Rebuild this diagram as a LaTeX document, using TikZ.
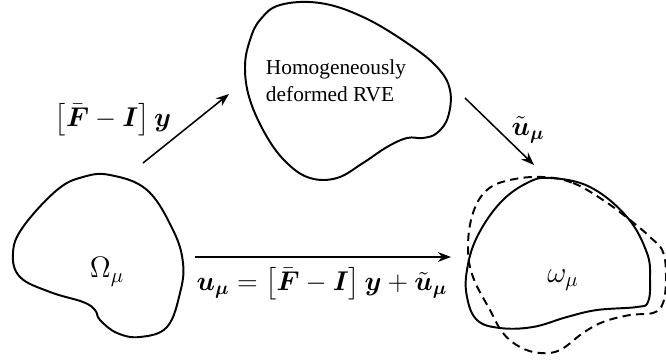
\RequirePackage{fix-cm}
\documentclass[tikz,border=0pt]{standalone}
\usepackage{amsmath,amssymb}
\usepackage{fontspec}
\setmainfont{Liberation Serif}
\usetikzlibrary{arrows.meta}

\newcommand{\maplabelsize}{\fontsize{13.2}{16}\selectfont}

\tikzset{
  blob/.style={line width=0.95pt,line join=round},
  blobdash/.style={blob,dash pattern=on 4pt off 2.6pt},
  maparrow/.style={->,line width=0.75pt},
  maplabel/.style={font=\maplabelsize,inner sep=1pt},
}

\begin{document}
\begin{tikzpicture}[x=0.0171cm,y=-0.0171cm,>=Stealth,font=\normalsize]
\useasboundingbox (0,0) rectangle (666,360);
% reference configuration
\draw[blob] plot[smooth cycle,tension=0.65] coordinates {(110,175) (147,190) (173,230) (183,263) (180,293) (167,327) (140,337) (117,333) (100,320) (95,310) (83,302) (50,292) (20,277) (13,253) (23,227) (57,190) (83,177)};
\node (omega) at (107,272) {\Large $\Omega_\mu$};
% homogeneously deformed
\draw[blob] plot[smooth cycle,tension=0.65] coordinates {(320,3) (363,17) (407,43) (437,67) (450,90) (448,117) (437,133) (423,138) (407,138) (387,147) (363,163) (337,178) (310,178) (287,163) (267,137) (250,100) (245,67) (250,40) (260,20) (280,5)};
\node[align=left,font=\fontsize{10.4}{13}\selectfont] (rve) at (336,81) {Homogeneously\\deformed RVE};
% deformed configuration
\draw[blob] plot[smooth cycle,tension=0.65] coordinates {(550,178) (590,187) (627,217) (647,253) (650,280) (648,302) (637,307) (597,310) (567,317) (533,327) (500,328) (477,320) (467,297) (467,270) (477,237) (500,203) (527,183)};
\draw[blobdash] plot[smooth cycle,tension=0.65] coordinates {(543,177) (573,183) (603,200) (630,220) (650,237) (663,252) (666,278) (663,303) (653,313) (630,315) (603,322) (583,333) (560,350) (540,353) (520,347) (503,333) (490,310) (473,277) (468,247) (473,213) (487,190) (510,180)};
\node (omegasmall) at (563,280) {\Large $\omega_\mu$};
% maps
\coordinate (omegaout) at (143,163);
\coordinate (rvein) at (229,94);
\coordinate (rveout) at (465,98);
\coordinate (defin) at (534,165);
\coordinate (omegaright) at (195,257);
\coordinate (defleft) at (451,257);
\draw[maparrow] (omegaout)--(rvein);
\draw[maparrow] (rveout)--(defin);
\draw[maparrow] (omegaright)--(defleft);
\node[maplabel] (homlabel) at (113,120) {$\bigl[\bar{\boldsymbol{F}}-\boldsymbol{I}\bigr]\,\boldsymbol{y}$};
\node[maplabel] (fluclabel) at (528,130) {$\tilde{\boldsymbol{u}}_{\boldsymbol{\mu}}$};
\node[maplabel] (totlabel) at (322,284) {$\boldsymbol{u}_{\boldsymbol{\mu}}=\bigl[\bar{\boldsymbol{F}}-\boldsymbol{I}\bigr]\,\boldsymbol{y}+\tilde{\boldsymbol{u}}_{\boldsymbol{\mu}}$};
\end{tikzpicture}
\end{document}
